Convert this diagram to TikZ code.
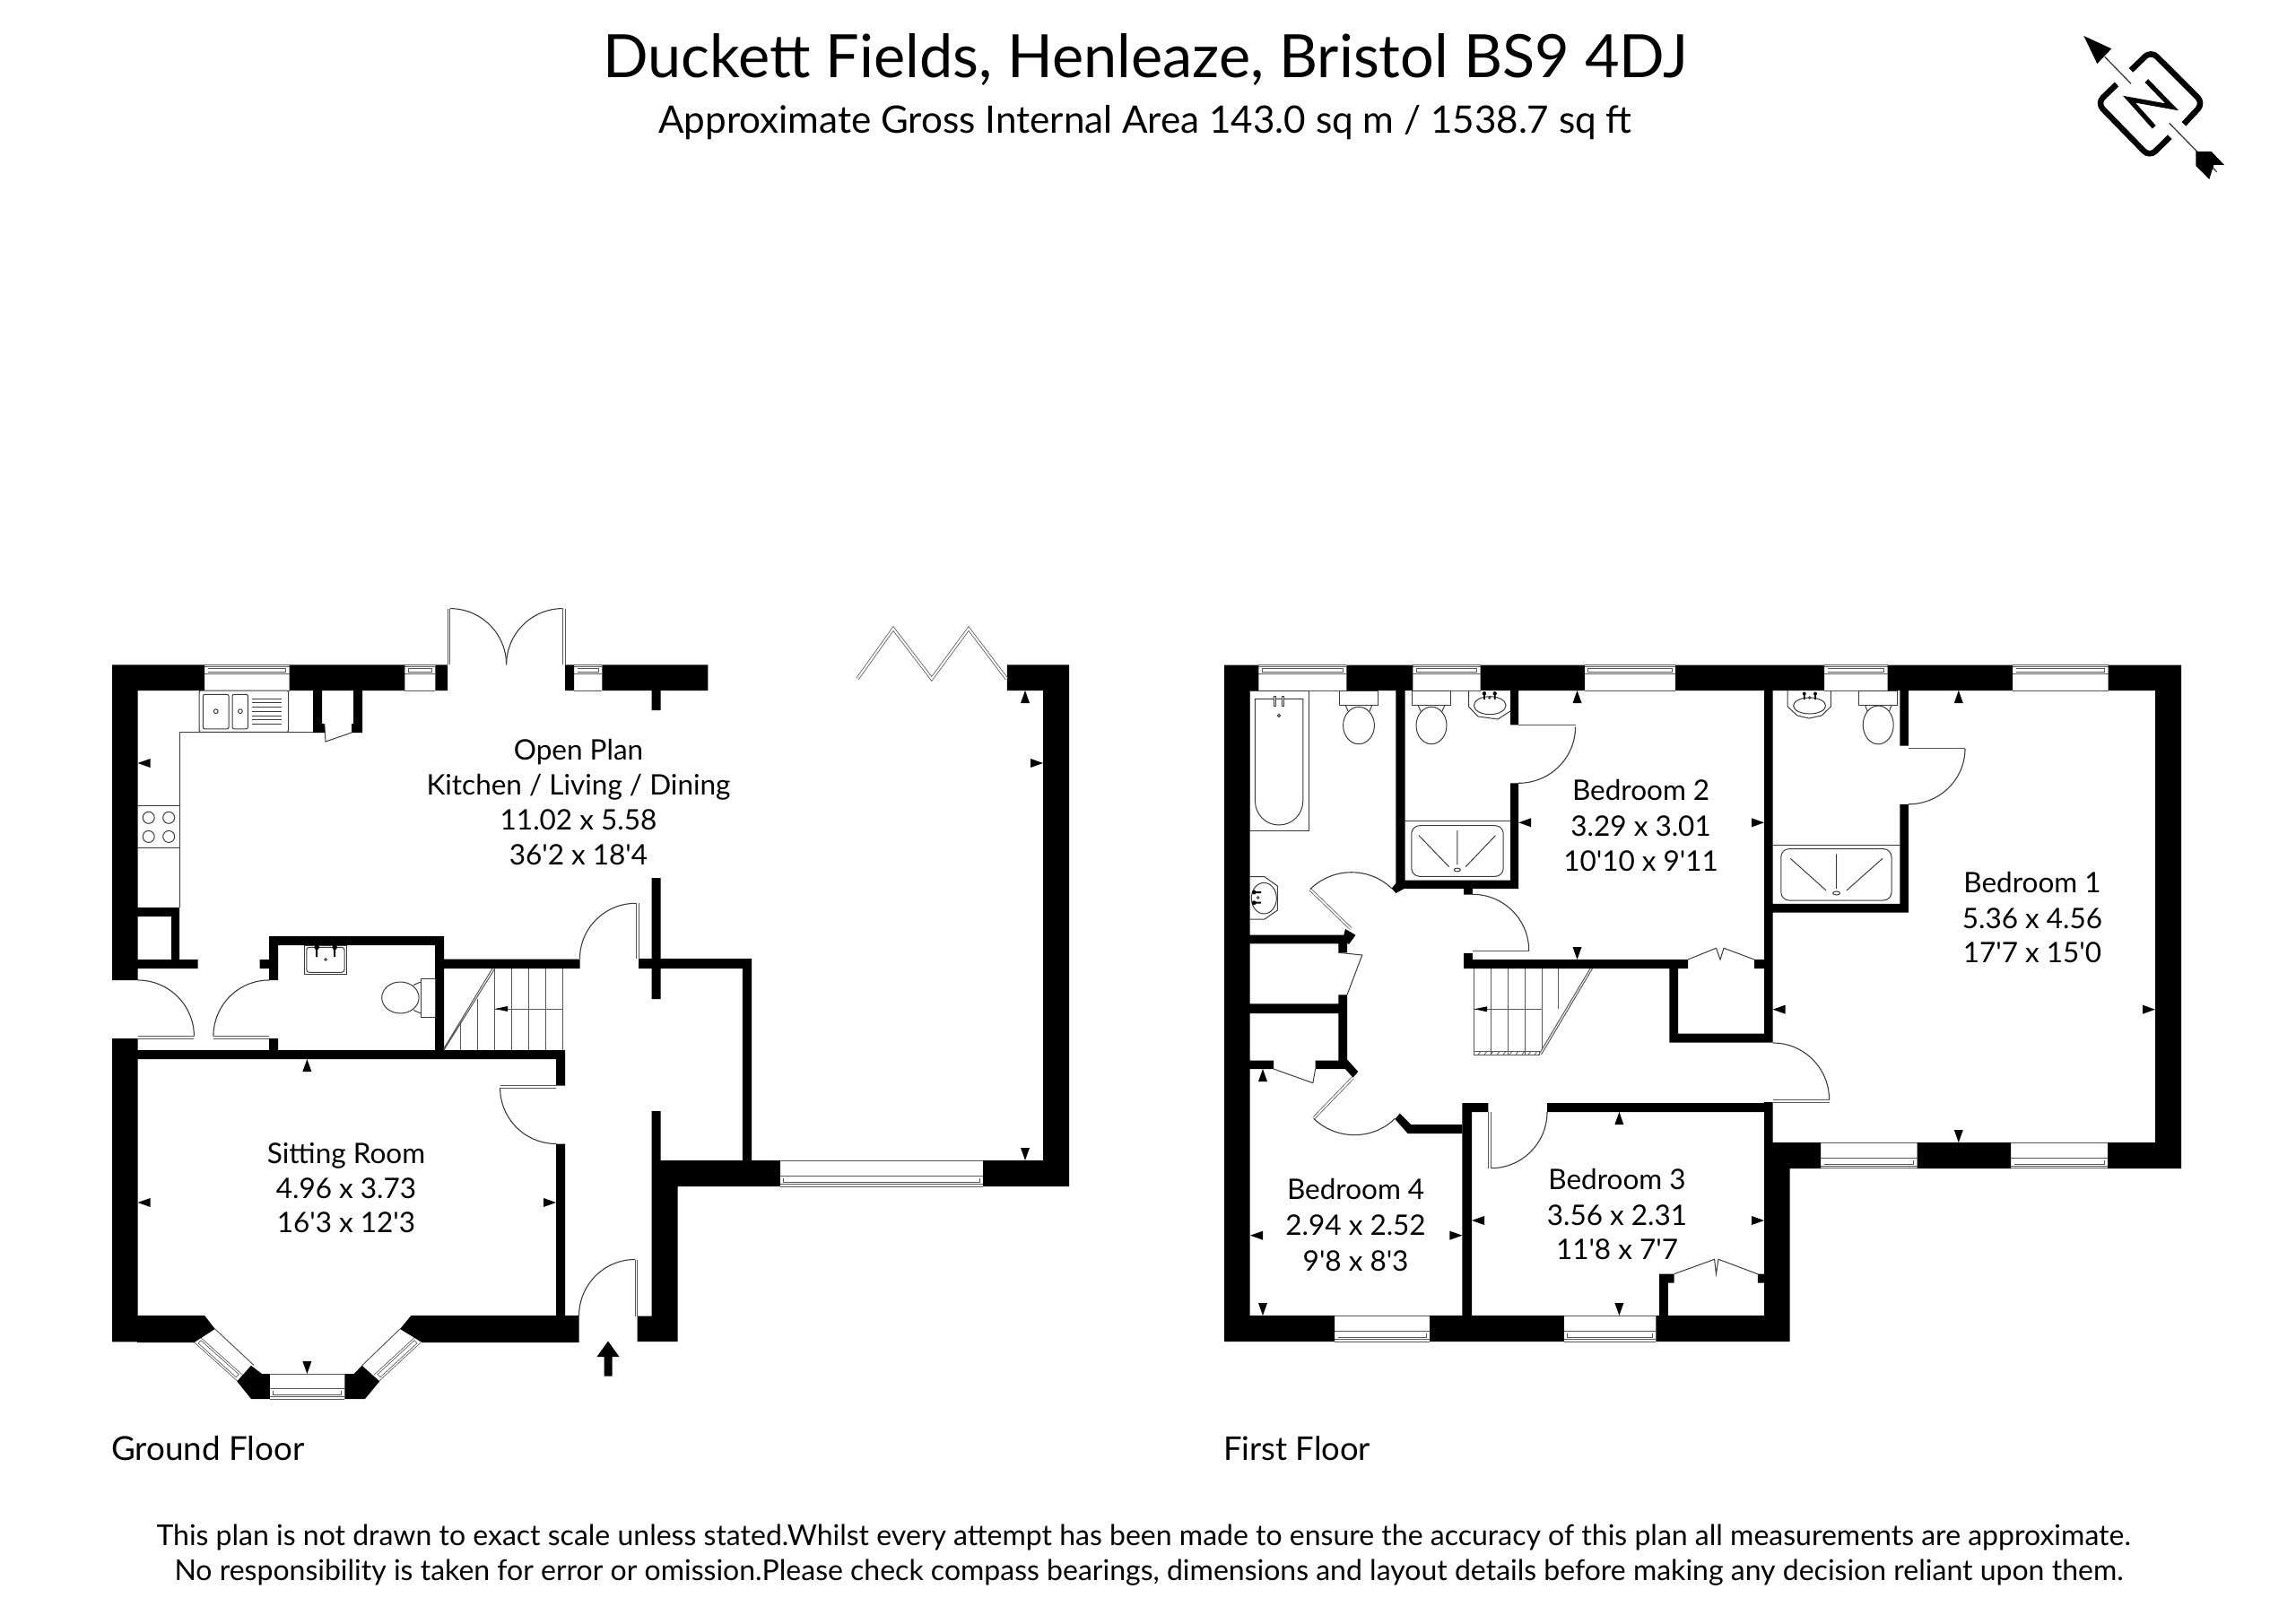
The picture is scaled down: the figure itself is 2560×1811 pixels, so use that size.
\documentclass[tikz,border=0pt]{standalone}
\usepackage{fontspec}
\newfontfamily\gs{Lato}
\definecolor{ln}{HTML}{3C3C3C}
\definecolor{wn}{HTML}{5A5A5A}
\tikzset{
  wall/.style={fill=black},
  fine/.style={draw=ln,line width=1pt},
  arcline/.style={draw=ln,line width=1.1pt},
  room/.style={font=\gs\fontsize{31.5}{34}\selectfont,text=black,inner sep=0pt,anchor=center,text height=22pt,text depth=0pt},
  big/.style={font=\gs,text=black,inner sep=0pt,anchor=base}
}
\newcommand\qarc[6]{\draw[arcline] (#3,#4) .. controls ({#3+0.5523*(#5-#1)},{#4+0.5523*(#6-#2)}) and ({#5+0.5523*(#3-#1)},{#6+0.5523*(#4-#2)}) .. (#5,#6);}
\newcommand\winframe[4]{%
  \draw[wn,line width=9.5pt] (#1,#2)--(#3,#4);
  \draw[white,line width=7.9pt] (#1,#2)--(#3,#4);
  \draw[wn,line width=5pt,shorten <=3.5pt,shorten >=3.5pt] (#1,#2)--(#3,#4);
  \draw[white,line width=3.4pt,shorten <=4.3pt,shorten >=4.3pt] (#1,#2)--(#3,#4);}
\newcommand\hwinT[3]{\winframe{#1}{747.5}{#2}{747.5}\draw[fine,wn] (#1,#3)--(#2,#3);\draw[fine,wn] (#1,741.5)--(#2,741.5);}
\newcommand\hwinB[5]{\winframe{#1}{#4}{#2}{#4}\draw[fine,wn] (#1,#3)--(#2,#3);\draw[fine,wn] (#1,#5)--(#2,#5);}
\newcommand\leaf[4]{\draw[wn,line width=3.4pt] (#1,#2)--(#3,#4);\draw[white,line width=1.8pt] (#1,#2)--(#3,#4);}
\newcommand\tkL[2]{\fill[black] (#1,#2)--(#1+14,#2-5)--(#1+14,#2+5)--cycle;}
\newcommand\tkR[2]{\fill[black] (#1,#2)--(#1-14,#2-5)--(#1-14,#2+5)--cycle;}
\newcommand\tkU[2]{\fill[black] (#1,#2)--(#1-5,#2+14)--(#1+5,#2+14)--cycle;}
\newcommand\tkD[2]{\fill[black] (#1,#2)--(#1-5,#2-14)--(#1+5,#2-14)--cycle;}
\begin{document}
\begin{tikzpicture}[x=1pt,y=-1pt]
\useasboundingbox (0,0) rectangle (2560,1811);
% ---------- text
\node[big,font=\gs\fontsize{66.6}{76}\selectfont] (title) at (1277,87) {Duckett Fields, Henleaze, Bristol BS9 4DJ};
\node[big,font=\gs\fontsize{42.2}{50}\selectfont] (sub) at (1277,149) {Approximate Gross Internal Area 143.0 sq m / 1538.7 sq ft};
\node[big,anchor=base west,font=\gs\fontsize{36.8}{40}\selectfont] (gf) at (124,1628) {Ground Floor};
\node[big,anchor=base west,font=\gs\fontsize{36.4}{40}\selectfont] (ff) at (1364,1628) {First Floor};
\node[big,font=\gs\fontsize{32}{34}\selectfont] (d1) at (1275,1723) {This plan is not drawn to exact scale unless stated.Whilst every attempt has been made to ensure the accuracy of this plan all measurements are approximate.};
\node[big,font=\gs\fontsize{32}{34}\selectfont] (d2) at (1281,1762) {No responsibility is taken for error or omission.Please check compass bearings, dimensions and layout details before making any decision reliant upon them.};
\node[room] (op1) at (645,836) {Open Plan};
\node[room] (op2) at (645,875) {Kitchen / Living / Dining};
\node[room] (op3) at (645,914.5) {11.02 x 5.58};
\node[room] (op4) at (645,953.7) {36'2 x 18'4};
\node[room] (sr1) at (386,1286) {Sitting Room};
\node[room] (sr2) at (386,1325) {4.96 x 3.73};
\node[room] (sr3) at (386,1363.5) {16'3 x 12'3};
\node[room] (b11) at (2266,984) {Bedroom 1};
\node[room] (b12) at (2266,1024) {5.36 x 4.56};
\node[room] (b13) at (2266,1062.5) {17'7 x 15'0};
\node[room] (b21) at (1829.6,881.7) {Bedroom 2};
\node[room] (b22) at (1829.6,921.7) {3.29 x 3.01};
\node[room] (b23) at (1829.6,960) {10'10 x 9'11};
\node[room] (b31) at (1803,1315) {Bedroom 3};
\node[room] (b32) at (1803,1355) {3.56 x 2.31};
\node[room] (b33) at (1803,1393) {11'8 x 7'7};
\node[room] (b41) at (1511.6,1326.7) {Bedroom 4};
\node[room] (b42) at (1511.6,1366.7) {2.94 x 2.52};
\node[room] (b43) at (1511.6,1406.7) {9'8 x 8'3};
% ---------- compass
\draw[ln,line width=1.3pt] (2346.7,63.3)--(2376,93.3);
\draw[ln,line width=1.3pt] (2418.7,137.3)--(2471.7,191.7);
\fill[black] (2323.3,40)--(2354.3,54.3)--(2338.3,71)--cycle;
\fill[black] (2448.3,169)--(2465.7,169)--(2480,184)--(2468.3,184)--(2463.3,200)--(2448.3,185)--cycle;
\draw[black,line width=6.5pt,rounded corners=9pt] (2376,78.3)--(2398.3,56.7)--(2456.7,115)--(2435,138.3);
\draw[black,line width=6.5pt,rounded corners=9pt] (2360,94)--(2338.3,115)--(2396.7,175)--(2419.3,152.7);
\draw[black,line width=5.2pt,miter limit=10] (2393.3,90)--(2421.7,119.3)--(2374,110.7)--(2401.7,141.7);
% ---------- GROUND FLOOR windows
\hwinT{228}{322.5}{770}
\hwinT{451.4}{485.4}{770}
\hwinT{640}{671.4}{770}
\hwinB{869.8}{1096}{1294}{1316}{1323}
% bay windows
\winframe{219.7}{1493.8}{267.6}{1536.7}
\draw[fine,wn] (239.7,1482)--(283,1522.4);
\winframe{419.8}{1536.7}{466.2}{1493.8}
\draw[fine,wn] (403.6,1522.8)--(446,1482);
\hwinB{300.9}{384.4}{1532}{1553}{1560}
% ---------- GROUND FLOOR walls
\fill[wall]
 (125,741.4) rectangle (228,770)
 (322.5,741.4) rectangle (451.4,770)
 (485.4,741.4) rectangle (499,770)
 (630,741.4) rectangle (640,770)
 (671.4,741.4) rectangle (789.4,770)
 (726.5,770) rectangle (736.7,792)
 (125,741.4) rectangle (153.6,1093)
 (125,1158) rectangle (153.6,1496.4)
 (153.6,1012) rectangle (200,1022)
 (191,1012) rectangle (200,1080)
 (153.6,1070) rectangle (220.7,1080)
 (349,770) rectangle (359,807)
 (349,807) rectangle (361.8,817)
 (394,770) rectangle (404,817)
 (392,807) rectangle (404,817)
 (300,1044) rectangle (495,1054)
 (300,1044) rectangle (310,1093)
 (289.6,1070) rectangle (300,1080)
 (300,1158) rectangle (310,1181)
 (485,1044) rectangle (495,1181)
 (495,1069.5) rectangle (646.5,1080)
 (153.6,1171) rectangle (630,1181)
 (620,1171) rectangle (630,1210.5)
 (620,1275.5) rectangle (630,1467)
 (726.5,979) rectangle (736.7,1114)
 (712,1069) rectangle (838,1080)
 (827.8,1069) rectangle (838,1294)
 (726.5,1239) rectangle (736.7,1294)
 (726.5,1294) rectangle (755.5,1496)
 (710.7,1467.7) rectangle (755.5,1496)
 (736.7,1294) rectangle (869.8,1323)
 (1096,1294) rectangle (1192,1323)
 (1163,741.4) rectangle (1192,1323)
 (1122.9,741.4) rectangle (1192,770);
\fill[wall] (153,1467)--(228.1,1467)--(239.7,1482)--(216.4,1497)--(153,1497)--cycle;
\fill[wall] (280,1522.8)--(292,1532)--(300.9,1532)--(300.9,1560)--(280,1560)--(264.3,1540.4)--cycle;
\fill[wall] (384.4,1532)--(394.6,1532)--(403.6,1522.8)--(423.2,1540.4)--(407,1560)--(384.4,1560)--cycle;
\fill[wall] (458.5,1467)--(446,1482)--(470.5,1497)--(645.5,1497)--(645.5,1467)--cycle;
% kitchen
\draw[fine] (200,1012)--(200,816.4)--(349,816.4);
\draw[fine] (153.6,898)--(200,898) (153.6,945.7)--(200,945.7);
\foreach \cx/\cy in {165.7/911.8,188.2/911.8,165.7/932.9,188.2/932.9}{\draw[fine] (\cx,\cy) circle (6.5);}
\draw[fine,rounded corners=2pt,fill=white] (222,770) rectangle (321.5,816.4);
\draw[fine,rounded corners=2pt] (226.4,774.3) rectangle (255,812.9);
\draw[fine,rounded corners=2pt] (259,774.3) rectangle (276.4,812.9);
\draw[fine] (240.7,793.2) circle (2.4) (267.9,793.2) circle (2.4);
\foreach \yy in {779,783.6,788.6,793.2,797.9,802.5,807.5}{\draw[ln,line width=.8pt] (280.7,\yy)--(314.3,\yy);}
\draw[fine] (361.8,807)--(363,827)--(392,817);
% WC
\draw[fine] (339.3,1054) rectangle (386.4,1086.8);
\draw[fine,rounded corners=3pt] (341.8,1056.3) rectangle (384,1084.3);
\fill[black] (353.2,1056.4) circle (2.8);
\fill[black] (373.2,1056.4) circle (2.8);
\fill[black] (352.2,1056) rectangle (354.2,1067) (372.2,1056) rectangle (374.2,1067);
\draw[fine] (363.2,1070) circle (1.3);
\draw[fine] (469,1091.4) rectangle (485,1134.3);
\draw[fine] (446.4,1112.5) ellipse (20.7 and 17.5);
\draw[fine] (460.7,1098.6)--(469,1095) (461,1126.5)--(469,1130);
% stairs ground
\foreach \xx in {551.8,570.7,589.3,608.2,627.1}{\draw[fine,wn] (\xx,1080)--(\xx,1171);}
\draw[fine,wn] (532.9,1113.6)--(532.9,1171) (513.6,1140)--(513.6,1171);
\draw[fine,wn] (551.8,1125)--(627.1,1125);
\fill[black] (551.8,1125)--(566,1122)--(566,1128)--cycle;
\draw[fine,wn] (549,1080)--(495,1169) (551.8,1080)--(495,1171);
% doors ground
\leaf{153.6}{1156.8}{216.4}{1156.8}
\qarc{153.6}{1155.7}{153.6}{1093}{216.4}{1155.7}
\leaf{237.9}{1156.8}{300}{1156.8}
\qarc{300}{1155.7}{300}{1093}{237.9}{1155.7}
\leaf{500.4}{678.6}{500.4}{741.4}
\qarc{501.8}{741.4}{501.8}{678.6}{564.6}{741.4}
\leaf{629}{678.6}{629}{741.4}
\qarc{627.5}{741.4}{627.5}{678.6}{564.6}{741.4}
\leaf{710.8}{1007.3}{710.8}{1069}
\qarc{709}{1069}{709}{1007.3}{646.5}{1069}
\leaf{557.6}{1211.8}{620}{1211.8}
\qarc{620}{1213}{557.6}{1213}{620}{1275.5}
\leaf{709.5}{1404.5}{709.5}{1467.7}
\qarc{708}{1467.7}{708}{1404.5}{645.5}{1467.7}
% bifold
\draw[wn,line width=3.6pt,miter limit=10] (956,757)--(996,701)--(1038.8,757)--(1080,701)--(1122.4,757);
\draw[white,line width=2pt,miter limit=10] (956,757)--(996,701)--(1038.8,757)--(1080,701)--(1122.4,757);
% entry arrow
\fill[black] (678,1495.6)--(690.5,1513)--(682.5,1513)--(682.5,1534.6)--(673.5,1534.6)--(673.5,1513)--(665.5,1513)--cycle;
% ticks ground
\tkL{153.6}{851}\tkR{1163}{851}\tkU{1143}{770}\tkD{1143}{1294}
\tkL{153.6}{1341}\tkR{620}{1341}\tkU{342.4}{1181}\tkD{342.4}{1532}
% ---------- FIRST FLOOR windows
\hwinT{1403.4}{1501.4}{770}
\hwinT{1575.4}{1650.5}{770}
\hwinT{1766.8}{1868}{770}
\hwinT{2034}{2104.6}{770}
\hwinT{2244}{2350.6}{770}
\hwinB{2030}{2137.5}{1274}{1296}{1302.7}
\hwinB{2242}{2350}{1274}{1296}{1302.7}
\hwinB{1488}{1594.2}{1467}{1489}{1496}
\hwinB{1743.8}{1846.4}{1467}{1489}{1496}
% ---------- FIRST FLOOR walls
\fill[wall]
 (1365,741.5) rectangle (1403.4,770)
 (1365,741.5) rectangle (1393.5,1496)
 (1501.4,741.5) rectangle (1575.4,770)
 (1650.5,741.5) rectangle (1766.8,770)
 (1868,741.5) rectangle (2034,770)
 (2104.6,741.5) rectangle (2244,770)
 (2350.6,741.5) rectangle (2432,770)
 (2403,741.5) rectangle (2432,1303)
 (1967,770) rectangle (1976.6,1162.5)
 (1967,1229) rectangle (1976.6,1274)
 (1967,1274) rectangle (1995.5,1496)
 (1976.6,1274) rectangle (2030,1303)
 (2137.5,1274) rectangle (2242,1303)
 (2350,1274) rectangle (2432,1303)
 (1365,1467) rectangle (1488,1496)
 (1594.2,1467) rectangle (1743.8,1496)
 (1846.4,1467) rectangle (1995.5,1496)
 (2118.3,770) rectangle (2127.9,831.7)
 (2118.3,896.8) rectangle (2127.9,1017.7)
 (1976.6,1007.8) rectangle (2127.9,1017.7)
 (1556.4,770) rectangle (1566.7,986)
 (1684,770) rectangle (1693.2,808.3)
 (1684,873.3) rectangle (1693.2,991)
 (1556.4,981.7) rectangle (1693.2,991)
 (1632,991) rectangle (1641.8,997.5)
 (1632,1063) rectangle (1641.8,1080)
 (1632,1070) rectangle (1882,1080)
 (1956,1070) rectangle (1967,1080)
 (1861.3,1070) rectangle (1871.2,1162.7)
 (1861.3,1152.7) rectangle (1976.6,1162.7)
 (1393.5,1042.7) rectangle (1502,1052.4)
 (1492.4,1042.7) rectangle (1502.2,1062.3)
 (1492.4,1109.3) rectangle (1502.2,1192)
 (1393.5,1119.3) rectangle (1492.4,1130)
 (1393.5,1182.7) rectangle (1420,1192)
 (1466.6,1182.7) rectangle (1502.7,1192)
 (1630.4,1230) rectangle (1641,1467)
 (1630.4,1230) rectangle (1659.4,1240)
 (1725,1230) rectangle (1976,1240)
 (1850,1420.7) rectangle (1859.8,1467)
 (1850,1420.7) rectangle (1866.5,1430.7)
 (1959.8,1420.7) rectangle (1967,1430.7);
\fill[wall] (1551.7,990.7)--(1556.4,985)--(1566,990.7)--(1556.4,996)--cycle;
\fill[wall] (1500,1036)--(1511.5,1042.7)--(1504,1053)--(1497,1048)--cycle;
\fill[wall] (1502.2,1181.7)--(1514.3,1195)--(1508.5,1201.7)--(1499.6,1191.7)--cycle;
\fill[wall] (1560.7,1241.7)--(1555.4,1248)--(1569.6,1264)--(1630.4,1264)--(1630.4,1254)--(1573.2,1254)--cycle;
% bathroom
\draw[fine] (1393.5,770) rectangle (1459,926.7);
\draw[fine] (1426,920) .. controls (1411,920) and (1399.4,908) .. (1399.4,893)--(1399.4,779.3)--(1452.8,779.3)--(1452.8,893) .. controls (1452.8,908) and (1441,920) .. (1426,920);
\draw[fine,fill=white] (1420.4,776) rectangle (1422.8,787) (1429,776) rectangle (1431.4,787);
\draw[fine] (1426,798) circle (1.6);
\draw[fine] (1493,770) rectangle (1536.6,786);
\draw[fine] (1515,809) ellipse (17.4 and 20.7);
\draw[fine] (1500,786)--(1503,793) (1530,786)--(1527,793);
\draw[fine] (1393.5,977.7)--(1410,977.7)--(1424.3,988)--(1424.3,1015)--(1410,1025)--(1393.5,1025);
\draw[fine] (1409.3,1001.7) ellipse (14 and 17.3);
\fill[black] (1398.2,995) circle (2.4);
\fill[black] (1398.2,1006.7) circle (2.4);
\fill[black] (1398,994) rectangle (1406,996) (1398,1005.7) rectangle (1406,1007.7);
\draw[fine] (1402.6,1001) circle (1.4);
% en-suite 2
\draw[fine] (1574.6,770) rectangle (1617.3,786);
\draw[fine] (1596,809) ellipse (17 and 20.7);
\draw[fine] (1581,786)--(1584,793) (1611,786)--(1608,793);
\draw[fine] (1637.5,770)--(1637.5,788)--(1648,799)--(1670,802)--(1684,793);
\draw[fine] (1661.2,786.7) ellipse (17.8 and 10);
\fill[black] (1654.9,773.3) circle (2.2);
\fill[black] (1666.7,773.3) circle (2.2);
\fill[black] (1654,773) rectangle (1655.8,780) (1665.8,773) rectangle (1667.6,780);
\draw[fine] (1660.8,778) circle (1.2);
\draw[fine] (1566.7,915.7)--(1684,915.7);
\draw[fine,rounded corners=9pt] (1573.8,920.7) rectangle (1676.2,977.3);
\draw[fine] (1582,931.7)--(1615.7,966.7) (1624.8,926)--(1624.8,964.3) (1667.5,931.7)--(1634,966.7);
\draw[fine] (1624.8,970) ellipse (3.6 and 1.9);
% en-suite 1
\draw[fine] (2072.4,770) rectangle (2115.3,786.2);
\draw[fine] (2094.2,808.4) ellipse (17 and 21.4);
\draw[fine] (2079.5,786.2)--(2082,793) (2109,786.2)--(2106.5,793);
\draw[fine] (1993.2,770)--(1993.2,788)--(2004,798)--(2017,801)--(2031,798)--(2041.3,788)--(2041.3,770);
\draw[fine] (2017.6,787) ellipse (18 and 9);
\fill[black] (2011.7,773.6) circle (2);
\fill[black] (2024,773.6) circle (2);
\fill[black] (2011,773) rectangle (2012.6,780) (2023.2,773) rectangle (2024.8,780);
\draw[fine] (2017.8,778) circle (1.2);
\draw[fine] (1976.6,942)--(2118.3,942);
\draw[fine,rounded corners=9pt] (1985.8,946.6) rectangle (2109,1004);
\draw[fine] (1996.2,957.3)--(2036,992.9) (2047.6,952.3)--(2047.6,991) (2099,957.3)--(2059,992.9);
\draw[fine] (2047.6,996) ellipse (4 and 2);
% stairs first
\foreach \xx in {1643.8,1662.4,1681.4,1700.3}{\draw[fine,wn] (\xx,1080)--(\xx,1176);}
\draw[fine,wn] (1719.3,1080)--(1719.3,1170) (1737.9,1080)--(1737.9,1125);
\draw[fine,wn] (1643.8,1125.3)--(1719.3,1125.3);
\fill[black] (1643.8,1125.3)--(1658,1122.3)--(1658,1128.3)--cycle;
\draw[fine,wn] (1773,1080)--(1715.8,1176) (1775.5,1080)--(1718.5,1176);
\draw[fine,wn] (1643.8,1172.3) rectangle (1716,1176);
\foreach \xx in {1648,1655,...,1711}{\draw[wn,line width=.8pt] (\xx,1176)--(\xx+3,1172.3);}
% doors first
\leaf{1693.2}{809.7}{1756.5}{809.7}
\qarc{1693.2}{810.7}{1756.5}{810.7}{1693.2}{873.3}
\leaf{2127.9}{833.3}{2191}{833.3}
\qarc{2127.9}{834.8}{2191}{834.8}{2127.9}{896.8}
\leaf{1641.8}{1061.6}{1704.7}{1061.6}
\qarc{1641.8}{1060}{1641.8}{997.3}{1704.7}{1060}
\leaf{1976.6}{1227.8}{2039.5}{1227.8}
\qarc{1976.6}{1226}{1976.6}{1163}{2039.5}{1226}
\leaf{1461}{992}{1506.2}{1035.7}
\qarc{1506.2}{1035.7}{1460.7}{991.7}{1551.7}{990.7}
\leaf{1508.5}{1201.7}{1464.7}{1247}
\qarc{1509.6}{1203}{1464.7}{1247.3}{1555.4}{1247.3}
\leaf{1661}{1240}{1661}{1302.7}
\qarc{1662.5}{1240}{1662.5}{1302.7}{1725}{1240}
% closet doors
\draw[fine] (1492.4,1062.3)--(1518.8,1065)--(1502,1109.3);
\draw[fine] (1420,1192)--(1463.9,1207.7)--(1466.6,1192);
\draw[fine] (1882,1070)--(1913.5,1057.3)--(1918,1070)--(1922,1057.3)--(1956,1070);
\draw[fine] (1866.5,1420.7)--(1911.6,1404.3)--(1913.4,1420.7)--(1916,1404.3)--(1959.8,1420.7);
% ticks first
\tkL{1693.2}{917.3}\tkR{1967}{917.3}\tkU{1758.5}{770}\tkD{1758.5}{1070}
\tkU{2183.8}{770}\tkD{2183.8}{1274}\tkL{1976.6}{1125.7}\tkR{2403}{1125.7}
\tkU{1805.4}{1240}\tkD{1805.4}{1467}\tkL{1641}{1361}\tkR{1967}{1361}
\tkL{1394}{1377.7}\tkR{1630.4}{1377.7}\tkD{1408}{1467}\tkU{1408}{1192}
\end{tikzpicture}
\end{document}
